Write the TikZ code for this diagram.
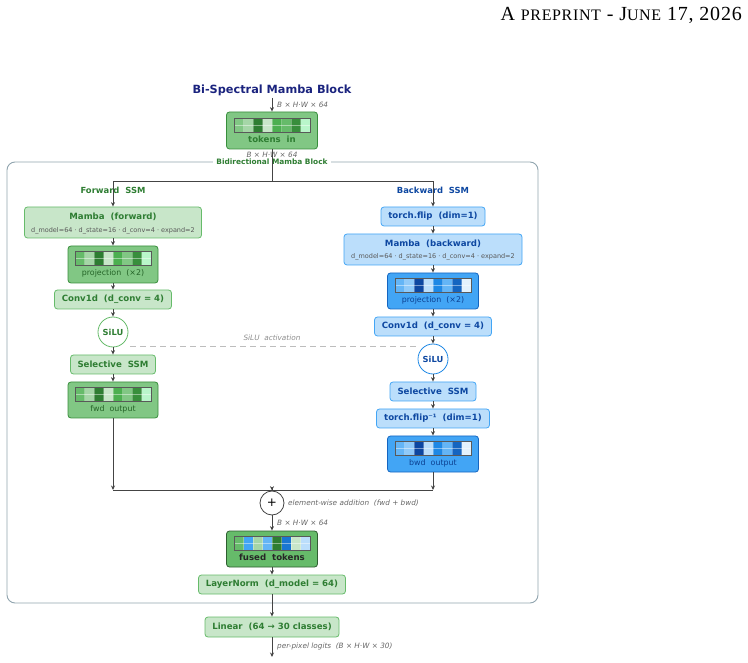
\documentclass[tikz,border=0pt]{standalone}
\usepackage{fontspec}
\setmainfont{DejaVu Sans}
\newfontfamily\serifhdr[LetterSpace=4]{Liberation Serif}
\usetikzlibrary{arrows.meta,calc}
\definecolor{gL}{HTML}{C8E6C9}
\definecolor{gB}{HTML}{66BB6A}
\definecolor{gT}{HTML}{2E7D32}
\definecolor{gM}{HTML}{81C784}
\definecolor{gD}{HTML}{388E3C}
\definecolor{gF}{HTML}{66BB6A}
\definecolor{gFD}{HTML}{2E5E30}
\definecolor{bL}{HTML}{BBDEFB}
\definecolor{bB}{HTML}{42A5F5}
\definecolor{bT}{HTML}{0D47A1}
\definecolor{bM}{HTML}{42A5F5}
\definecolor{bD}{HTML}{1565C0}
\definecolor{navy}{HTML}{1A237E}
\definecolor{cgray}{HTML}{444444}
\definecolor{labgray}{HTML}{666666}
\definecolor{frame}{HTML}{90A4AE}
\definecolor{dashc}{HTML}{BDBDBD}
\definecolor{c1}{HTML}{66BB6A}
\definecolor{c2}{HTML}{A5D6A7}
\definecolor{c3}{HTML}{2E7D32}
\definecolor{c4}{HTML}{C8E6C9}
\definecolor{c5}{HTML}{4CAF50}
\definecolor{c6}{HTML}{81C784}
\definecolor{c7}{HTML}{388E3C}
\definecolor{c8}{HTML}{B9F6CA}
\definecolor{d1}{HTML}{64B5F6}
\definecolor{d2}{HTML}{90CAF9}
\definecolor{d3}{HTML}{0D47A1}
\definecolor{d4}{HTML}{BBDEFB}
\definecolor{d5}{HTML}{1E88E5}
\definecolor{d6}{HTML}{64B5F6}
\definecolor{d7}{HTML}{1565C0}
\definecolor{d8}{HTML}{E3F2FD}
\definecolor{e2}{HTML}{42A5F5}
\definecolor{e6}{HTML}{1976D2}
\newcommand\tokstrip[3]{%
  \foreach \cc [count=\ii from 0] in {#3} {
    \fill[\cc] ({#1+\ii*9.5},{#2}) rectangle ++(9.5,14);
  }
  \draw[white,opacity=0.45,line width=0.5pt] ({#1},{#2+7}) -- ++(76,0);
  \foreach \ii in {1,...,7} {\draw[white,opacity=0.3,line width=0.3pt] ({#1+\ii*9.5},{#2}) -- ++(0,14);}
  \draw[black!65,line width=0.6pt] ({#1},{#2}) rectangle ++(76,14);
}
\begin{document}
\begin{tikzpicture}[x=1pt,y=-1pt,
  >={Stealth[length=4.5pt,width=4pt]},
  box/.style={rounded corners=3pt,line width=0.8pt,inner sep=0pt,anchor=center,font=\fontsize{8.6}{10}\selectfont\bfseries},
  gl/.style={box,fill=gL,draw=gB,text=gT},
  gd/.style={box,fill=gM,draw=gD},
  bl/.style={box,fill=bL,draw=bB,text=bT},
  bd/.style={box,fill=bM,draw=bD},
  conn/.style={draw=cgray,line width=0.8pt},
  lab/.style={font=\fontsize{7.3}{8}\selectfont\itshape,text=labgray,inner sep=1pt},
  sub/.style={font=\fontsize{6.5}{7}\selectfont,text=black!65,inner sep=0pt},
  btxt/.style={font=\fontsize{8.6}{10}\selectfont\bfseries,inner sep=0pt},
  ntxt/.style={font=\fontsize{7.9}{9}\selectfont,inner sep=0pt},
  silu/.style={circle,fill=white,line width=0.8pt,minimum size=30pt,inner sep=0pt,font=\fontsize{8.3}{9}\selectfont\bfseries},
  head/.style={font=\fontsize{8.4}{9}\selectfont\bfseries,inner sep=0pt}
]
\useasboundingbox (0,0) rectangle (748,663);

% page header
\node[anchor=base east,inner sep=0pt] (hdr) at (742,20.5) {\serifhdr\fontsize{20}{22}\selectfont A {\fontsize{16}{17}\selectfont PREPRINT} - J{\fontsize{16}{17}\selectfont UNE} 17, 2026};

% title
\node[font=\fontsize{11.3}{13}\selectfont\bfseries,text=navy,inner sep=0pt] (title) at (272,90) {Bi-Spectral Mamba Block};

% frame
\draw[frame,line width=0.9pt,rounded corners=8pt] (7,162) rectangle (538,603);

% tokens in
\coordinate (top) at (272,98);
\node[gd,minimum width=91,minimum height=37] (tokens) at (272,130.5) {};
\tokstrip{234}{118}{c6,c2,c3,c4,c5,c1,c7,c8}
\node[btxt,text=gT] (tokenst) at (272,139.5) {tokens~~in};
\draw[conn,->] (top) -- (tokens.north);
\node[lab,anchor=west] (l1) at (276,105) {B × H·W × 64};
\node[lab] (l2) at (272,155) {B × H·W × 64};
\node[font=\fontsize{7.4}{8}\selectfont\bfseries,text=gT,fill=white,inner xsep=3pt,inner ysep=1.5pt] (frlab) at (272,161.5) {Bidirectional Mamba Block};

% split
\coordinate (split) at (272,181);
\draw[conn] (tokens.south) -- (split);

\node[head,text=gT] (fhead) at (113,190) {Forward~~SSM};
\node[head,text=bT] (bhead) at (433,190) {Backward~~SSM};

% forward column
\node[gl,minimum width=177,minimum height=31] (fmamba) at (113,222.5) {};
\node[btxt,text=gT] (fmambat) at (113,217) {Mamba~~(forward)};
\node[sub] (fmambas) at (113,230.5) {d\_model=64 · d\_state=16 · d\_conv=4 · expand=2};
\node[gd,minimum width=90,minimum height=37] (fproj) at (113,264.5) {};
\tokstrip{75}{251}{c1,c2,c3,c4,c5,c6,c7,c8}
\node[ntxt,text=gT!80!black] (fprojt) at (113,273.5) {projection~~(×2)};
\node[gl,minimum width=117,minimum height=19] (fconv) at (113,299.5) {Conv1d~~(d\_conv = 4)};
\node[silu,draw=gB,text=gT] (fsilu) at (113,332) {SiLU};
\node[gl,minimum width=85,minimum height=19] (fsel) at (113,364.5) {Selective~~SSM};
\node[gd,minimum width=90,minimum height=36] (fout) at (113,400) {};
\tokstrip{75}{387}{c1,c2,c3,c4,c5,c6,c7,c8}
\node[ntxt,text=gT!80!black] (foutt) at (113,409.5) {fwd~~output};

% backward column
\node[bl,minimum width=104,minimum height=19] (bflip) at (433,216.5) {torch.flip~~(dim=1)};
\node[bl,minimum width=178,minimum height=31] (bmamba) at (433,249.5) {};
\node[btxt,text=bT] (bmambat) at (433,244) {Mamba~~(backward)};
\node[sub] (bmambas) at (433,257) {d\_model=64 · d\_state=16 · d\_conv=4 · expand=2};
\node[bd,minimum width=91,minimum height=36] (bproj) at (433,291) {};
\tokstrip{395}{278}{d1,d2,d3,d4,d5,d6,d7,d8}
\node[ntxt,text=bT!90!black] (bprojt) at (433,300.5) {projection~~(×2)};
\node[bl,minimum width=117,minimum height=19] (bconv) at (433,326.5) {Conv1d~~(d\_conv = 4)};
\node[silu,draw=d5,text=bT] (bsilu) at (433,359) {SiLU};
\node[bl,minimum width=86,minimum height=19] (bsel) at (433,391.5) {Selective~~SSM};
\node[bl,minimum width=113,minimum height=19] (bflipinv) at (433,418.5) {torch.flip⁻¹~~(dim=1)};
\node[bd,minimum width=91,minimum height=36] (bout) at (433,454) {};
\tokstrip{395}{441}{d1,d2,d3,d4,d5,d6,d7,d8}
\node[ntxt,text=bT!90!black] (boutt) at (433,463.5) {bwd~~output};

% split arrows
\draw[conn,->] (split) -| (fmamba.north);
\draw[conn,->] (split) -| (bflip.north);

% forward chain
\draw[conn,->] (fmamba.south) -- (fproj.north);
\draw[conn,->] (fproj.south) -- (fconv.north);
\draw[conn,->] (fconv.south) -- (fsilu.north);
\draw[conn,->] (fsilu.south) -- (fsel.north);
\draw[conn,->] (fsel.south) -- (fout.north);

% backward chain
\draw[conn,->] (bflip.south) -- (bmamba.north);
\draw[conn,->] (bmamba.south) -- (bproj.north);
\draw[conn,->] (bproj.south) -- (bconv.north);
\draw[conn,->] (bconv.south) -- (bsilu.north);
\draw[conn,->] (bsilu.south) -- (bsel.north);
\draw[conn,->] (bsel.south) -- (bflipinv.north);
\draw[conn,->] (bflipinv.south) -- (bout.north);

% SiLU dashed link
\coordinate (dashL) at (130,346);
\coordinate (dashR) at (416,346);
\draw[dashc,line width=0.8pt,dash pattern=on 6pt off 4pt] (dashL) -- (dashR);
\node[lab,text=black!45] (silulab) at (272,338) {SiLU~~activation};

% merge
\coordinate (fcorner) at (113,490);
\coordinate (bcorner) at (433,490);
\coordinate (mid) at (272,490);
\node[circle,draw=cgray,fill=white,line width=0.8pt,minimum size=24pt,inner sep=0pt,font=\fontsize{12}{13}\selectfont] (plus) at (272,503) {+};
\draw[conn,->] (fout.south) -- (fcorner);
\draw[conn,->] (bout.south) -- (bcorner);
\draw[conn] (fcorner) -- (bcorner);
\draw[conn,->] (mid) -- (plus.north);
\node[lab,anchor=west] (addlab) at (287,503) {element-wise addition~~(fwd + bwd)};

% fused
\node[box,fill=gF,draw=gFD,minimum width=91,minimum height=36] (fused) at (272,549) {};
\tokstrip{234}{536}{c1,e2,c2,d1,c3,e6,c4,d4}
\node[btxt,text=black!85] (fusedt) at (272,557.5) {fused~~tokens};
\draw[conn,->] (plus.south) -- (fused.north);
\node[lab,anchor=west] (l3) at (276,523) {B × H·W × 64};

\node[gl,minimum width=147,minimum height=19] (ln) at (272,584.5) {LayerNorm~~(d\_model = 64)};
\draw[conn,->] (fused.south) -- (ln.north);
\node[gl,minimum width=134,minimum height=20] (linear) at (272,627) {Linear~~(64 → 30 classes)};
\draw[conn,->] (ln.south) -- (linear.north);
\coordinate (out) at (272,657);
\draw[conn,->] (linear.south) -- (out);
\node[lab,anchor=west] (l4) at (276,646) {per-pixel logits~~(B × H·W × 30)};
\end{tikzpicture}
\end{document}
